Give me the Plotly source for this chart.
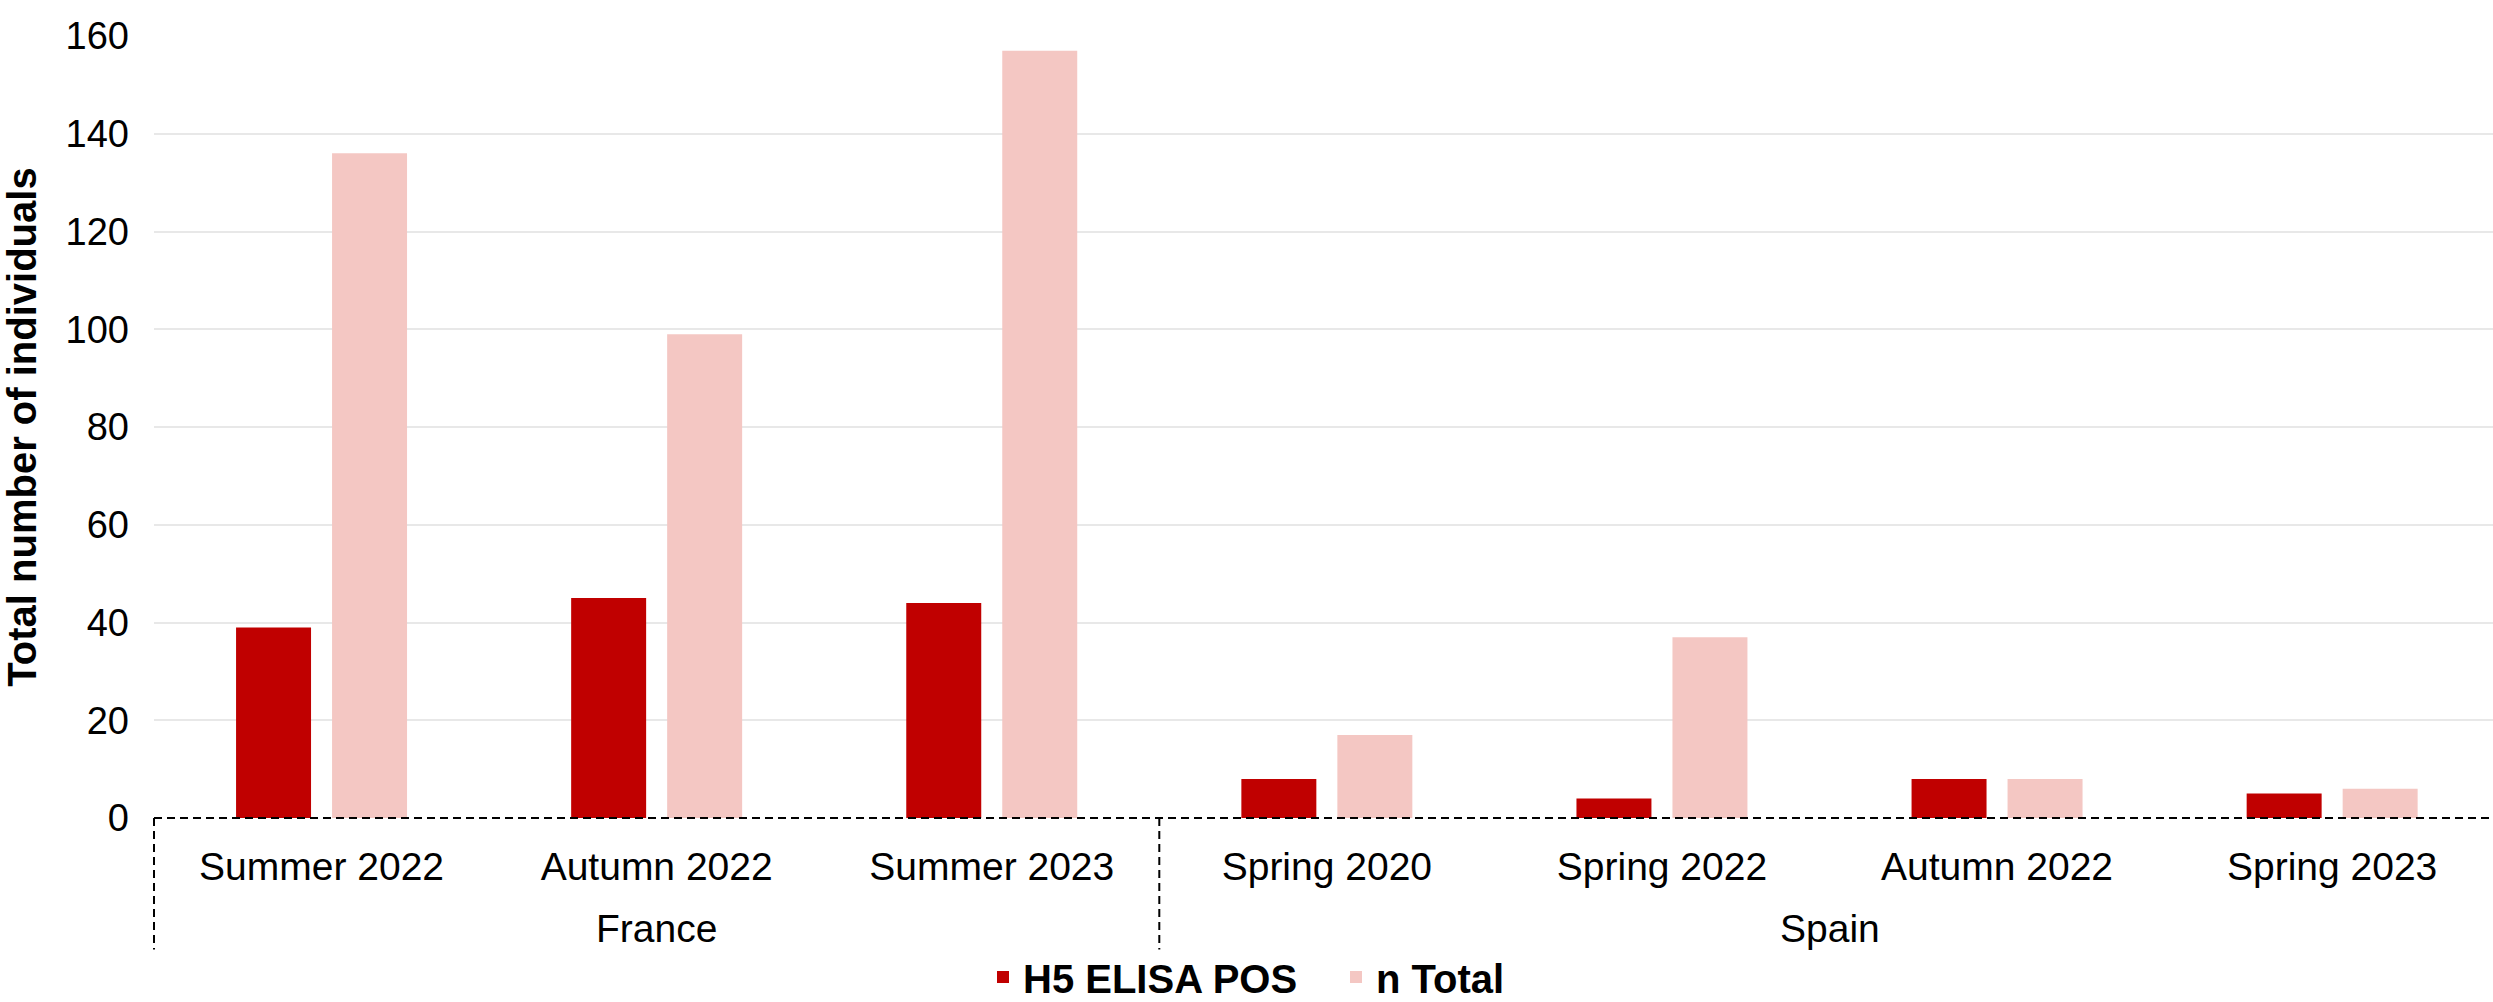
import plotly.graph_objects as go

countries = ["France", "France", "France", "Spain", "Spain", "Spain", "Spain"]
seasons = ["Summer 2022", "Autumn 2022", "Summer 2023",
           "Spring 2020", "Spring 2022", "Autumn 2022", "Spring 2023"]
elisa_pos = [39, 45, 44, 8, 4, 8, 5]
n_total = [136, 99, 157, 17, 37, 8, 6]
y_ticks = [0, 20, 40, 60, 80, 100, 120, 140, 160]
series_names = ["H5 ELISA POS", "n Total"]
colors = ["#C00000", "#F4C7C3"]

pos = list(range(len(seasons)))
FONT = "Arial, Liberation Sans, sans-serif"

fig = go.Figure()
fig.add_trace(go.Bar(x=pos, y=elisa_pos, name=series_names[0],
                     marker=dict(color=colors[0], line=dict(width=0)),
                     legendwidth=308))
fig.add_trace(go.Bar(x=pos, y=n_total, name=series_names[1],
                     marker=dict(color=colors[1], line=dict(width=0))))

# group labels (countries)
groups = []
for i, c in enumerate(countries):
    if not groups or groups[-1][0] != c:
        groups.append([c, i, i])
    else:
        groups[-1][2] = i

annotations = []
shapes = []
for name, a, b in groups:
    annotations.append(dict(x=(a + b) / 2, xref="x", y=-0.1407, yref="paper",
                            text=name, showarrow=False, xanchor="center",
                            yanchor="middle",
                            font=dict(family=FONT, size=39, color="black")))

dash_line = dict(color="black", width=2, dash="8px,5px")
# baseline
shapes.append(dict(type="line", xref="paper", yref="paper", x0=0, x1=1,
                   y0=0, y1=0, line=dash_line, layer="above"))
# left edge
shapes.append(dict(type="line", xref="paper", yref="paper", x0=0, x1=0,
                   y0=0, y1=-0.168, line=dash_line, layer="above"))
# separators between groups
for name, a, b in groups[:-1]:
    shapes.append(dict(type="line", xref="x", yref="paper", x0=b + 0.5,
                       x1=b + 0.5, y0=0, y1=-0.168, line=dash_line,
                       layer="above"))

fig.update_layout(
    width=2493, height=1002,
    margin=dict(l=154, r=0, t=36, b=184, autoexpand=False),
    paper_bgcolor="white", plot_bgcolor="white",
    barmode="group", bargap=0.427, bargroupgap=0.219,
    font=dict(family=FONT, size=39, color="black"),
    showlegend=True,
    legend=dict(orientation="h", xref="container", yref="container",
                x=0.5, xanchor="center", y=0.025, yanchor="middle",
                font=dict(family=FONT, size=40, color="black", weight=700),
                bgcolor="rgba(0,0,0,0)", traceorder="normal"),
    annotations=annotations,
    shapes=shapes,
)
fig.update_xaxes(range=[-0.5, 6.48], tickmode="array", tickvals=pos,
                 ticktext=seasons, showgrid=False, zeroline=False,
                 showline=False, ticks="", ticklabelstandoff=22,
                 tickfont=dict(family=FONT, size=39, color="black"),
                 automargin=False)
fig.update_yaxes(range=[0, 160], tickmode="array", tickvals=y_ticks,
                 showgrid=True, gridcolor="#E8E8E8", gridwidth=1.5,
                 zeroline=False, showline=False, ticks="",
                 ticklabelstandoff=24,
                 tickfont=dict(family=FONT, size=38, color="black"),
                 title=dict(text="<b>Total number of individuals</b>",
                            font=dict(family=FONT, size=40, color="black"),
                            standoff=17),
                 automargin=False)

fig.write_html("out.html",
               config={"displayModeBar": False},
               post_script="document.body.style.margin='0';"
                           "document.body.style.overflow='hidden';")
